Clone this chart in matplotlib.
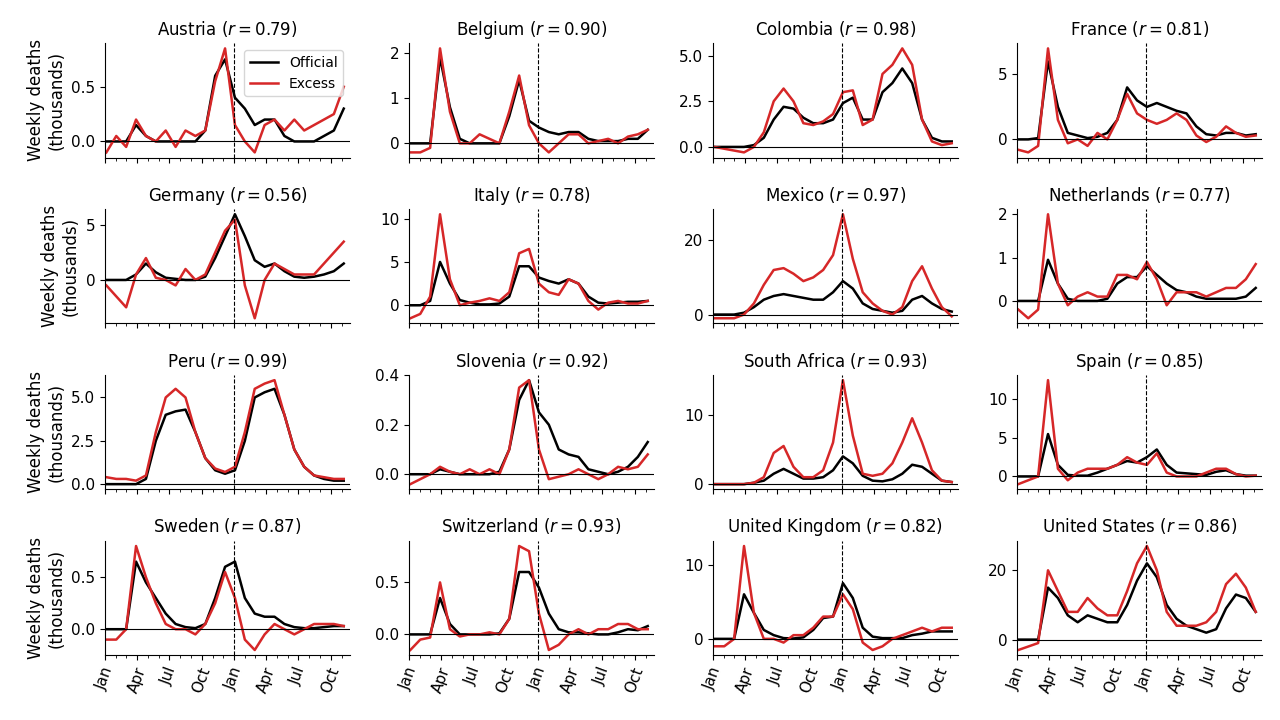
import matplotlib
matplotlib.use("Agg")
import matplotlib.pyplot as plt
import matplotlib.dates as mdates
import numpy as np
import pandas as pd

# sample dates, every 4 weeks from Jan 2020
dates = pd.date_range("2020-01-05", periods=25, freq="28D")

countries = ["Austria", "Belgium", "Colombia", "France", "Germany", "Italy", "Mexico", "Netherlands",
             "Peru", "Slovenia", "South Africa", "Spain", "Sweden", "Switzerland", "United Kingdom", "United States"]
r_values = [0.79, 0.90, 0.98, 0.81, 0.56, 0.78, 0.97, 0.77, 0.99, 0.92, 0.93, 0.85, 0.87, 0.93, 0.82, 0.86]

official = {
    "Austria": [0,0,0,0.15,0.05,0,0,0,0,0,0.1,0.6,0.75,0.4,0.3,0.15,0.2,0.2,0.05,0,0,0,0.05,0.1,0.3],
    "Belgium": [0,0,0,1.9,0.8,0.1,0,0,0,0,0.6,1.4,0.5,0.35,0.25,0.2,0.25,0.25,0.1,0.05,0.05,0.05,0.1,0.1,0.3],
    "Colombia": [0,0,0,0,0.1,0.5,1.5,2.2,2.1,1.6,1.3,1.3,1.5,2.4,2.7,1.5,1.5,3,3.5,4.3,3.5,1.5,0.5,0.3,0.3],
    "France": [0,0,0.1,6.0,2.5,0.5,0.3,0.1,0.2,0.5,1.5,4.0,3.0,2.5,2.8,2.5,2.2,2.0,1.0,0.4,0.3,0.5,0.5,0.3,0.4],
    "Germany": [0,0,0,0.5,1.5,0.7,0.2,0.1,0,0,0.3,2.0,4.0,6.0,4.0,1.8,1.2,1.5,0.8,0.3,0.2,0.3,0.5,0.8,1.5],
    "Italy": [0,0,0.5,5.0,2.5,0.6,0.3,0.1,0.1,0.2,1.0,4.5,4.5,3.2,2.8,2.5,3.0,2.5,1.0,0.3,0.2,0.3,0.4,0.4,0.5],
    "Mexico": [0,0,0,0.5,2,4,5,5.5,5,4.5,4,4,6,9,7,3,1.5,1,0.5,1,4,5,3,1.5,0.8],
    "Netherlands": [0,0,0,0.95,0.4,0.05,0,0,0,0.05,0.4,0.55,0.55,0.8,0.6,0.4,0.25,0.2,0.1,0.05,0.05,0.05,0.05,0.1,0.3],
    "Peru": [0,0,0,0,0.3,2.5,4.0,4.2,4.3,3.0,1.5,0.8,0.6,0.8,2.5,5.0,5.3,5.5,4.0,2.0,1.0,0.5,0.3,0.2,0.2],
    "Slovenia": [0,0,0,0.02,0.01,0,0,0,0,0.01,0.1,0.3,0.38,0.25,0.2,0.1,0.08,0.07,0.02,0.01,0,0.01,0.03,0.07,0.13],
    "South Africa": [0,0,0,0,0.2,0.5,1.5,2.2,1.5,0.8,0.8,1.0,2.0,4.0,3.0,1.2,0.5,0.4,0.7,1.5,2.8,2.5,1.5,0.5,0.3],
    "Spain": [0,0,0,5.5,1.5,0.2,0.1,0.1,0.5,1.0,1.5,2.0,1.8,2.5,3.5,1.5,0.5,0.4,0.3,0.2,0.6,0.8,0.3,0.1,0.1],
    "Sweden": [0,0,0,0.65,0.45,0.3,0.15,0.05,0.02,0.01,0.05,0.3,0.6,0.65,0.3,0.15,0.12,0.12,0.05,0.02,0.01,0.01,0.02,0.03,0.03],
    "Switzerland": [0,0,0,0.35,0.1,0,0,0,0,0.01,0.15,0.6,0.6,0.45,0.2,0.05,0.02,0.02,0.01,0,0,0.02,0.05,0.04,0.08],
    "United Kingdom": [0,0,0,6.0,3.5,1.2,0.5,0.1,0.05,0.2,1.2,2.8,3.0,7.5,5.5,1.5,0.3,0.1,0.1,0.1,0.5,0.7,1.0,1.0,1.0],
    "United States": [0,0,0,15,12,7,5,7,6,5,5,10,17,22,18,10,6,4,3,2,3,9,13,12,8],
}
excess = {
    "Austria": [-0.1,0.05,-0.05,0.2,0.05,0,0.1,-0.05,0.1,0.05,0.1,0.55,0.85,0.15,0.0,-0.1,0.15,0.2,0.1,0.2,0.1,0.15,0.2,0.25,0.5],
    "Belgium": [-0.2,-0.2,-0.1,2.1,0.7,0,0,0.2,0.1,0,0.7,1.5,0.4,0.0,-0.2,0,0.2,0.2,0,0.05,0.1,0,0.15,0.2,0.3],
    "Colombia": [0,-0.1,-0.2,-0.3,0,0.8,2.5,3.2,2.5,1.3,1.2,1.4,1.8,3.0,3.1,1.2,1.5,4.0,4.5,5.4,4.5,1.5,0.3,0.1,0.2],
    "France": [-0.8,-1.0,-0.5,7.0,1.5,-0.3,0,-0.5,0.5,0,1.5,3.5,2.0,1.5,1.2,1.5,2,1.5,0.3,-0.2,0.2,1.0,0.5,0.2,0.3],
    "Germany": [-0.5,-1.5,-2.5,0.5,2.0,0.2,0,-0.5,1.0,0,0.5,2.5,4.5,5.5,-0.5,-3.5,0,1.5,1.0,0.5,0.5,0.5,1.5,2.5,3.5],
    "Italy": [-1.5,-1.0,1.0,10.5,3.0,0,0.3,0.5,0.8,0.5,1.5,6.0,6.5,2.5,1.5,1.2,3.0,2.5,0.5,-0.5,0.3,0.5,0.2,0.2,0.5],
    "Mexico": [-1,-1,-1,0,3,8,12,12.5,11,9,10,12,16,27,15,6,3,1,0,2,9,13,7,2,-0.5],
    "Netherlands": [-0.2,-0.4,-0.2,2.0,0.4,-0.1,0.1,0.2,0.1,0.1,0.6,0.6,0.5,0.9,0.5,-0.1,0.2,0.2,0.2,0.1,0.2,0.3,0.3,0.5,0.85],
    "Peru": [0.4,0.3,0.3,0.2,0.5,3.0,5.0,5.5,5.0,3.0,1.5,0.9,0.7,1.0,3.0,5.5,5.8,6.0,4.0,2.0,1.0,0.5,0.4,0.3,0.3],
    "Slovenia": [-0.04,-0.02,0,0.03,0.01,0,0.02,0,0.02,0,0.1,0.35,0.38,0.1,-0.02,-0.01,0,0.02,0,-0.02,0,0.03,0.02,0.03,0.08],
    "South Africa": [0,0,0,0,0.2,1.0,4.5,5.5,2.5,1.0,1.0,2.0,6.0,15.0,7.0,1.5,1.2,1.5,3.0,6.0,9.5,6.0,2.0,0.5,0.3],
    "Spain": [-1,-0.5,0,12.5,1.0,-0.5,0.5,1.0,1.0,1.0,1.5,2.5,1.8,1.5,3.0,0.5,0,0,0,0.5,1.0,1.0,0.3,0,0.1],
    "Sweden": [-0.1,-0.1,0,0.8,0.5,0.25,0.05,0,0,-0.05,0.05,0.25,0.55,0.3,-0.1,-0.2,-0.05,0.05,0,-0.05,0,0.05,0.05,0.05,0.03],
    "Switzerland": [-0.15,-0.05,-0.03,0.5,0.05,-0.02,0,0,0.02,0,0.15,0.85,0.8,0.2,-0.15,-0.1,0,0.05,0,0.05,0.05,0.1,0.1,0.05,0.05],
    "United Kingdom": [-1,-1,0,12.5,3.5,0,0,-0.5,0.5,0.5,1.5,3.0,3.0,6.0,4.0,-0.5,-1.5,-1.0,0,0.5,1.0,1.5,1.0,1.5,1.5],
    "United States": [-3,-2,-1,20,14,8,8,12,9,7,7,14,22,27,20,8,4,4,4,5,8,16,19,15,8],
}

fig, axes = plt.subplots(4, 4, figsize=(12.8, 7.2), dpi=100)
for i, (ax, c) in enumerate(zip(axes.flat, countries)):
    ax.plot(dates, official[c], color="black", lw=1.8, label="Official")
    ax.plot(dates, excess[c], color="#d62728", lw=1.8, label="Excess")
    ax.axhline(0, color="black", lw=0.8)
    ax.axvline(pd.Timestamp("2021-01-01"), color="black", lw=0.8, ls="--")
    ax.set_title(f"{c} ($r = {r_values[i]:.2f}$)", fontsize=12)
    ax.spines["top"].set_visible(False)
    ax.spines["right"].set_visible(False)
    ax.set_xlim(pd.Timestamp("2020-01-01"), pd.Timestamp("2021-11-25"))
    ax.xaxis.set_major_locator(mdates.MonthLocator(bymonth=[1, 4, 7, 10]))
    ax.xaxis.set_minor_locator(mdates.MonthLocator())
    ax.xaxis.set_major_formatter(mdates.DateFormatter("%b"))
    ax.tick_params(labelsize=11)
    if i < 12:
        ax.set_xticklabels([])
    else:
        for lab in ax.get_xticklabels():
            lab.set_rotation(70)
    if i % 4 == 0:
        ax.set_ylabel("Weekly deaths\n(thousands)", fontsize=12)
    if i == 0:
        ax.legend(loc="upper right", fontsize=10, bbox_to_anchor=(1.0, 1.0))

fig.subplots_adjust(left=0.082, right=0.986, top=0.94, bottom=0.09, wspace=0.24, hspace=0.45)
fig.savefig("out.png")
